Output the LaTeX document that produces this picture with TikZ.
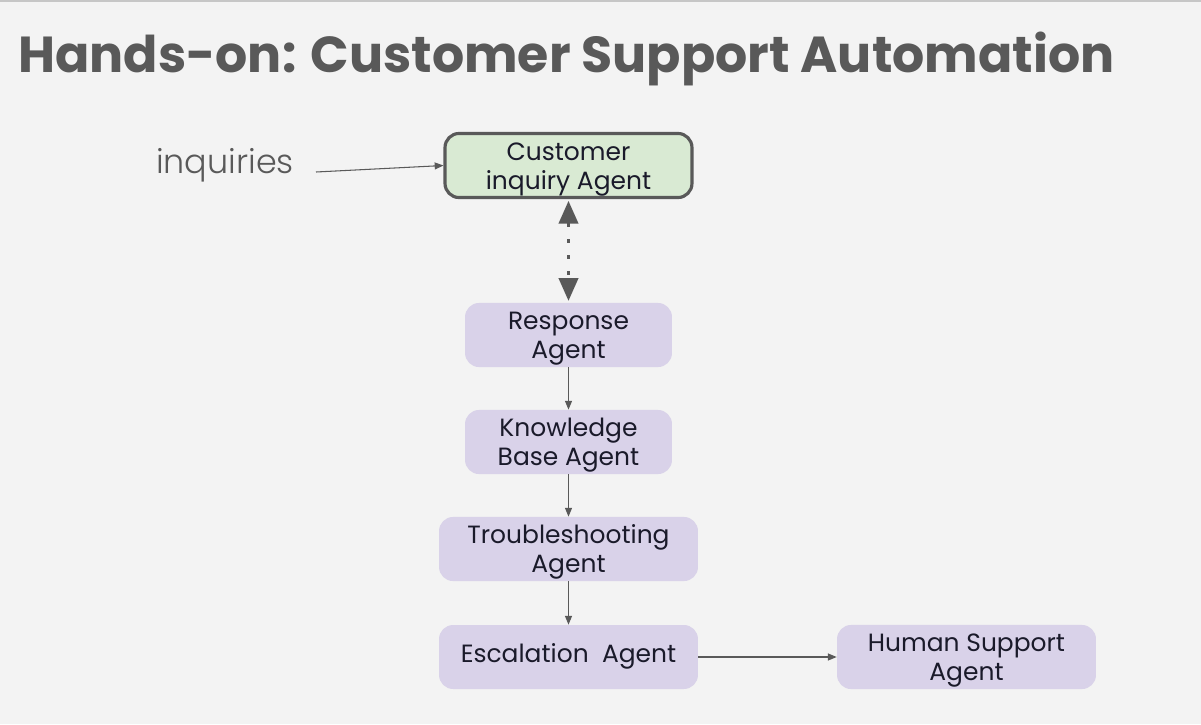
\documentclass[tikz,border=0pt]{standalone}
\usepackage{fontspec}
\setmainfont{Poppins}
\newfontfamily\lightfont{Poppins}[UprightFont=* Light]
\usetikzlibrary{arrows.meta}
\definecolor{bgcol}{HTML}{F3F3F3}
\definecolor{darkgr}{HTML}{595959}
\definecolor{greenbox}{HTML}{D9EAD3}
\definecolor{lilac}{HTML}{D9D2E9}
\definecolor{txtcol}{HTML}{1A1A2A}
\tikzstyle{agent} = [rectangle, rounded corners=8pt, minimum height=1.28cm, align=center, text=txtcol, fill=lilac, font=\fontsize{14.2}{16.7}\selectfont, text height=28.5pt, text depth=1.3pt]
\tikzstyle{oneline} = [text height=10pt, text depth=3.8pt]
\tikzstyle{mainag} = [agent, fill=greenbox, draw=darkgr, line width=1.8pt]
\tikzstyle{arrow} = [darkgr, line width=0.6pt, -{Triangle[length=5pt,width=4pt]}]
\tikzstyle{bigarr} = [darkgr, line width=1.8pt, dash pattern=on 2.2pt off 7pt, {Triangle[length=13pt,width=11pt]}-{Triangle[length=13pt,width=11pt]}]

\begin{document}
\begin{tikzpicture}[x=0.02cm, y=-0.02cm]
\fill[bgcol] (0,0) rectangle (1201,724);
\useasboundingbox (0,0) rectangle (1201,724);
\draw[gray!45, line width=1.2pt] (0,0.5) -- (1201,0.5);

% Title
\node (title) [anchor=base west, inner sep=0pt, text=darkgr, font=\fontsize{28.8}{34}\selectfont\bfseries] at (18,72) {Hands-on: Customer Support Automation};

% Drawing nodes
\node (inq) [text=darkgr, font=\fontsize{19}{22}\selectfont\lightfont] at (225,165) {inquiries};
\coordinate (inqend) at (316,172);
\node (cust) [mainag, minimum width=4.94cm] at (568.5,165.5) {Customer\\inquiry Agent};
\node (resp) [agent, minimum width=4.14cm] at (568.5,335) {Response\\Agent};
\node (know) [agent, minimum width=4.14cm] at (568.5,442) {Knowledge\\Base Agent};
\node (trbl) [agent, minimum width=5.18cm] at (568.5,549) {Troubleshooting\\Agent};
\node (escl) [agent, oneline, minimum width=5.18cm] at (568.5,657) {Escalation~ Agent};
\node (human) [agent, minimum width=5.18cm] at (966.5,657) {Human Support\\Agent};

% Drawing arrows
\draw [arrow] (inqend) -- (cust.west);
\draw [bigarr] ([yshift=-1pt]cust.south) -- ([yshift=1pt]resp.north);
\draw [arrow] (resp) -- (know);
\draw [arrow] (know) -- (trbl);
\draw [arrow] (trbl) -- (escl);
\draw [arrow] (escl) -- (human);
\end{tikzpicture}
\end{document}
